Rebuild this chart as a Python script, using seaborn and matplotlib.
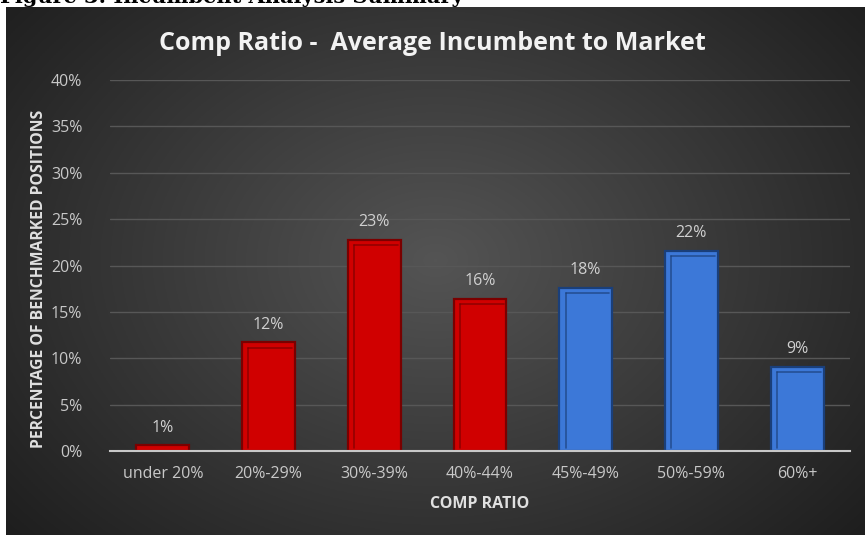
import numpy as np
import pandas as pd
import matplotlib
matplotlib.use("Agg")
import matplotlib.pyplot as plt
import seaborn as sns

# Data
categories = ["under 20%", "20%-29%", "30%-39%", "40%-44%", "45%-49%", "50%-59%", "60%+"]
values = [0.6, 11.7, 22.8, 16.4, 17.6, 21.6, 9.1]
labels = ["1%", "12%", "23%", "16%", "18%", "22%", "9%"]
groups = ["low", "low", "low", "low", "high", "high", "high"]
yticks = [0, 5, 10, 15, 20, 25, 30, 35, 40]

df = pd.DataFrame({"cat": categories, "val": values, "grp": groups})

sns.set_style("white")
plt.rcParams["font.family"] = ["Open Sans", "DejaVu Sans"]

W, H = 865, 535
fig = plt.figure(figsize=(W / 100, H / 100), dpi=100, facecolor="white")

# dark radial-gradient backdrop
bg = fig.add_axes([6 / W, 0, 1 - 6 / W, 1 - 7 / H], zorder=0)
yy, xx = np.mgrid[0:1:300j, 0:1:480j]
d = np.sqrt(((xx - 0.5) / 0.62) ** 2 + ((yy - 0.48) / 0.75) ** 2)
shade = np.clip(0.33 - 0.2 * d, 0.1, 0.34)
bg.imshow(np.dstack([shade, shade, shade]), aspect="auto", extent=[0, 1, 0, 1])
bg.axis("off")

ax = fig.add_axes([110 / W, (H - 451) / H, 740 / W, 371 / H], zorder=1)
ax.patch.set_alpha(0)

sns.barplot(data=df, x="cat", y="val", hue="grp", palette={"low": "#d00000", "high": "#3c78d8"},
            width=0.5, dodge=False, legend=False, ax=ax, saturation=1, zorder=3)

edge = {"low": "#7a0000", "high": "#1a3f7a"}
for bar, g in zip(ax.patches, groups):
    bar.set_edgecolor(edge[g])
    bar.set_linewidth(1.6)
    # inner bevel line
    x0, w, h = bar.get_x(), bar.get_width(), bar.get_height()
    if h > 2:
        ax.plot([x0 + w * 0.12, x0 + w * 0.12], [0.3, h - 0.6], color=edge[g], lw=1.2, alpha=0.7, zorder=4)
        ax.plot([x0 + w * 0.12, x0 + w * 0.95], [h - 0.6, h - 0.6], color=edge[g], lw=1.2, alpha=0.7, zorder=4)

for i, (v, lab) in enumerate(zip(values, labels)):
    ax.annotate(lab, (i, v), xytext=(0, 7), textcoords="offset points",
                ha="center", va="bottom", color="#d0d0d0", fontsize=11.5)

ax.set_ylim(0, 40)
ax.set_xlim(-0.5, len(categories) - 0.5)
ax.set_yticks(yticks)
ax.set_yticklabels([f"{t}%" for t in yticks])
ax.yaxis.grid(True, color="#575757", linewidth=1, zorder=0)
ax.set_axisbelow(True)
for s in ["top", "right", "left"]:
    ax.spines[s].set_visible(False)
ax.spines["bottom"].set_color("#c8c8c8")
ax.spines["bottom"].set_linewidth(1.5)
ax.spines["bottom"].set_zorder(5)
ax.tick_params(axis="both", length=0, colors="#c8c8c8", labelsize=11.5, pad=11)
ax.tick_params(axis="y", pad=20)

ax.set_xlabel("COMP RATIO", color="#e0e0e0", fontsize=11.5, fontweight="bold", labelpad=10)
ax.set_ylabel("PERCENTAGE OF BENCHMARKED POSITIONS", color="#e0e0e0", fontsize=11.3,
              fontweight="bold")
ax.yaxis.set_label_coords(-0.085, 0.465)

fig.text(432 / W, 1 - 43 / H, "Comp Ratio -  Average Incumbent to Market", ha="center", va="center",
         color="#f2f2f2", fontsize=18, fontweight="bold")

fig.text(0.0, 1 - 3 / H, "Figure 3: Incumbent Analysis Summary", ha="left", va="baseline",
         color="black", fontsize=15, fontweight="bold", family="DejaVu Serif")

fig.savefig("out.png", dpi=100, facecolor="white")
